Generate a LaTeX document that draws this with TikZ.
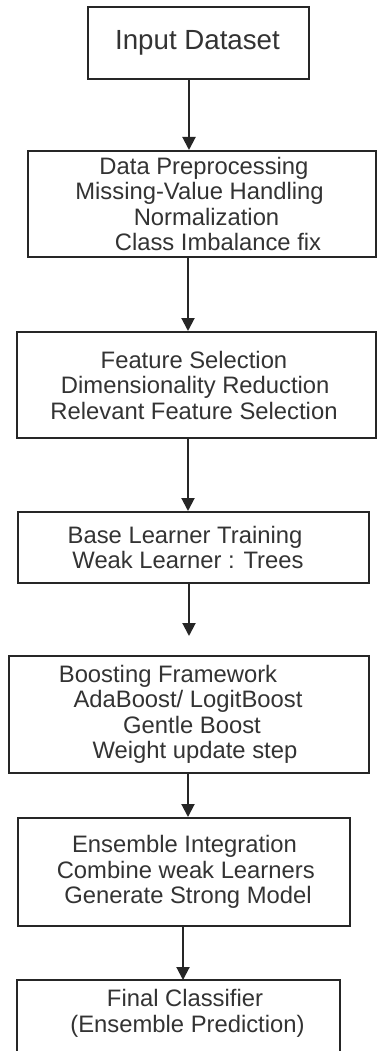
\documentclass[tikz,border=0pt]{standalone}
\usepackage{fontspec}
\setmainfont{Liberation Sans}
\usetikzlibrary{arrows.meta}

\newcommand{\nudge}[2]{\hspace*{#1pt}#2\hspace*{-#1pt}}

\begin{document}
\begin{tikzpicture}[x=1pt,y=-1pt,
  stage/.style={draw=black!85,line width=2pt,rectangle,inner sep=0pt,align=center,
    text=black!80,font=\fontsize{23.8}{25.5}\selectfont},
  flow/.style={draw=black!85,line width=2pt,-{Triangle[width=13pt,length=13pt]}}]
 \clip (0,0) rectangle (378,1051);
 \fill[white] (0,0) rectangle (378,1051);
 \coordinate (axis) at (188,0);
 \coordinate (axisb) at (189,0);
 \coordinate (axisc) at (183,0);
 \node[stage,minimum width=221,minimum height=72,font=\fontsize{27.7}{30}\selectfont] (input) at (198.5,43) {\nudge{-1}{Input Dataset}};
 \node[stage,minimum width=348,minimum height=106] (prep) at (202,204) {\nudge{2}{Data Preprocessing}\\ \nudge{-5}{Missing-Value Handling}\\ \nudge{9}{Normalization}\\ \nudge{16}{Class Imbalance fix}};
 \node[stage,minimum width=359,minimum height=106] (feat) at (196.5,385) {\nudge{-2.5}{Feature Selection}\\ \nudge{-2.5}{Dimensionality Reduction}\\ \nudge{-2.5}{Relevant Feature Selection}};
 \node[stage,minimum width=351,minimum height=71] (base) at (193.5,547.5) {\nudge{-8.5}{Base Learner Training}\\ \nudge{-5.5}{Weak Learner : Trees}};
 \coordinate (gap) at (189,636);
 \node[stage,minimum width=360,minimum height=117] (boost) at (189,714.5) {\nudge{-21}{Boosting Framework}\\ \nudge{-2}{AdaBoost/ LogitBoost}\\ \nudge{6}{Gentle Boost}\\ \nudge{6}{Weight update step}};
 \node[stage,minimum width=332,minimum height=108] (ens) at (184,872) {\nudge{0.5}{Ensemble Integration}\\ \nudge{3.5}{Combine weak Learners}\\ \nudge{4}{Generate Strong Model}};
 \node[stage,draw=none,minimum width=321,minimum height=65] (final) at (178.5,1013.5) {\nudge{6.5}{Final Classifier}\\ \nudge{9}{(Ensemble Prediction)}};
 \draw[draw=black!85,line width=2pt] (final.north west) rectangle ([yshift=-40pt]final.south east);

 \draw[flow] (input.south -| axisb) -- (prep.north -| axisb);
 \draw[flow] (prep.south -| axis) -- (feat.north -| axis);
 \draw[flow] (feat.south -| axis) -- (base.north -| axis);
 \draw[flow] (base.south -| axisb) -- (gap);
 \draw[flow] (boost.south -| axis) -- (ens.north -| axis);
 \draw[flow] (ens.south -| axisc) -- (final.north -| axisc);
\end{tikzpicture}
\end{document}
